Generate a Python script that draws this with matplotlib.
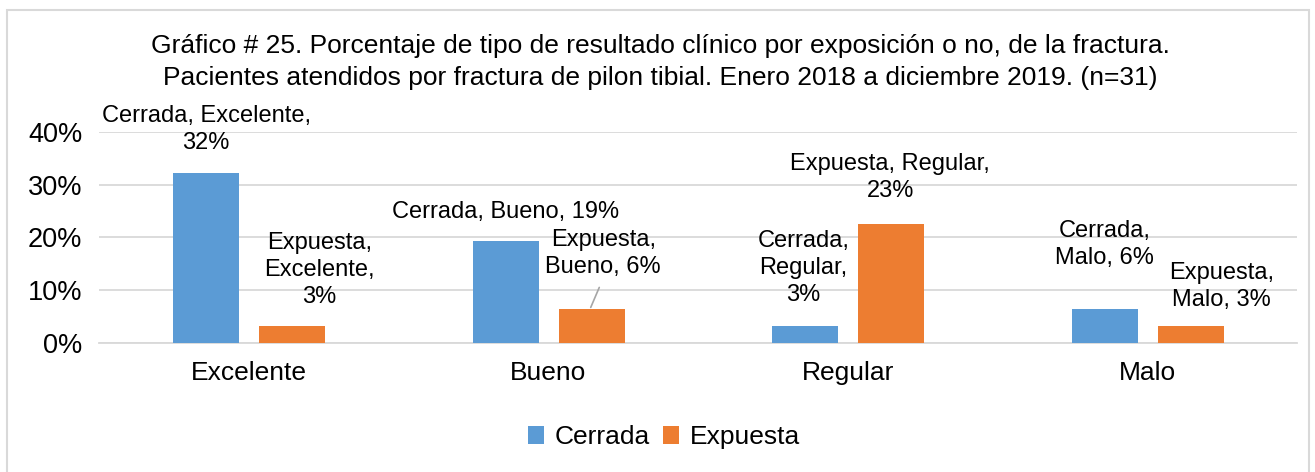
import matplotlib.pyplot as plt
import numpy as np
from matplotlib.patches import Rectangle

plt.rcParams['font.family'] = ['Liberation Sans', 'DejaVu Sans']

# data
categorias = ['Excelente', 'Bueno', 'Regular', 'Malo']
cerrada = [32.3, 19.4, 3.2, 6.5]
expuesta = [3.2, 6.5, 22.6, 3.2]
yticks = [0, 10, 20, 30, 40]

titulo = ('Gráfico # 25. Porcentaje de tipo de resultado clínico por exposición o no, de la fractura.\n'
          'Pacientes atendidos por fractura de pilon tibial. Enero 2018 a diciembre 2019. (n=31)')

# label texts
lab_cerrada = ['Cerrada, Excelente,\n32%', 'Cerrada, Bueno, 19%',
               'Cerrada,\nRegular,\n3%', 'Cerrada,\nMalo, 6%']
lab_expuesta = ['Expuesta,\nExcelente,\n3%', 'Expuesta,\nBueno, 6%',
                'Expuesta, Regular,\n23%', 'Expuesta,\nMalo, 3%']
# label offsets (pixels) relative to bar top centre
off_cerrada = [(0, 43), (0, 29), (-2, 58), (0, 64)]
off_expuesta = [(27, 56), (13, 55), (-1, 46), (31, 40)]

azul = '#5B9BD5'
naranja = '#ED7D31'
gris = '#d9d9d9'

fig = plt.figure(figsize=(13.15, 4.72), dpi=100)
ax = fig.add_axes([99 / 1315, 1 - 343 / 472, (1297 - 99) / 1315, (343 - 132) / 472])

x = np.arange(len(categorias))
w = 0.22
b1 = ax.bar(x - 0.142, cerrada, w, color=azul, label='Cerrada', zorder=3)
b2 = ax.bar(x + 0.145, expuesta, w, color=naranja, label='Expuesta', zorder=3)

ax.set_xlim(-0.5, 3.5)
ax.set_ylim(0, 40)
ax.set_yticks(yticks)
ax.set_yticklabels([f'{v}%' for v in yticks], fontsize=19.5)
ax.set_xticks(x)
ax.set_xticklabels(categorias, fontsize=19)
ax.tick_params(length=0, pad=12)
ax.tick_params(axis='x', pad=13)
ax.grid(axis='y', color=gris, lw=1.3, zorder=0)
for s in ['top', 'right', 'left']:
    ax.spines[s].set_visible(False)
ax.spines['bottom'].set_color(gris)
ax.spines['bottom'].set_linewidth(1.3)

px = 0.72  # points per pixel
for i in range(len(categorias)):
    dx, dy = off_cerrada[i]
    ax.annotate(lab_cerrada[i], (x[i] - 0.142, cerrada[i]), xytext=(dx * px, dy * px),
                textcoords='offset points', ha='center', va='center', fontsize=17,
                linespacing=1.3)
    dx, dy = off_expuesta[i]
    arrow = None
    if i == 1:
        arrow = dict(arrowstyle='-', color='#a6a6a6', lw=1.2, shrinkA=5, shrinkB=1,
                     relpos=(0.5, 0))
    ax.annotate(lab_expuesta[i], (x[i] + 0.145 - (0.005 if i == 1 else 0), expuesta[i]),
                xytext=(dx * px, dy * px),
                textcoords='offset points', ha='center', va='center', fontsize=17,
                linespacing=1.3, arrowprops=arrow)

fig.text(0.502, 1 - 62 / 472, titulo, ha='center', va='center', fontsize=19,
         linespacing=1.38)

fig.legend(handles=[b1, b2], loc='center', bbox_to_anchor=(0.505, 1 - 437 / 472),
           ncol=2, frameon=False, fontsize=19, handlelength=0.6, handleheight=0.65,
           handletextpad=0.4, columnspacing=0.5)

fig.patches.append(Rectangle((7 / 1315, -0.05), (1309 - 7) / 1315, 1.05 - 10 / 472,
                             transform=fig.transFigure, fill=False, edgecolor=gris,
                             lw=1.5))

fig.savefig('out.png', dpi=100)
